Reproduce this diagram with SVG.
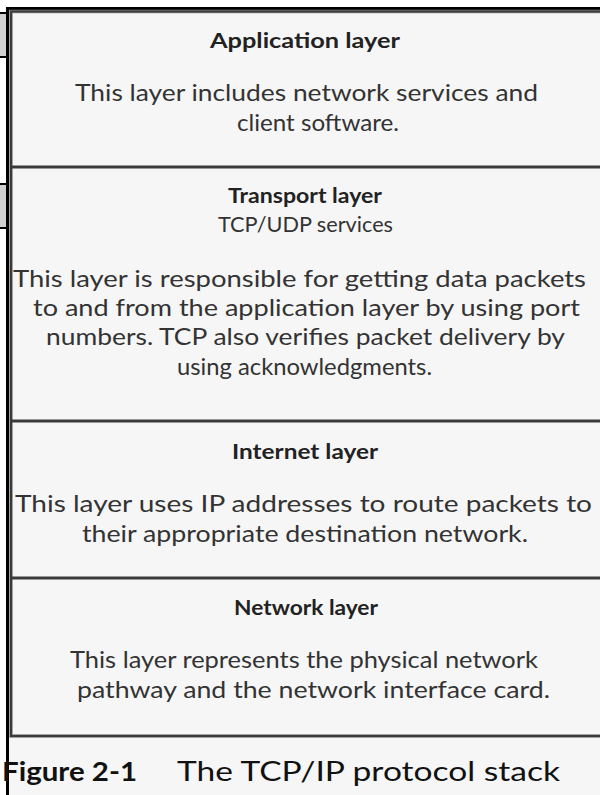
<svg xmlns="http://www.w3.org/2000/svg" width="600" height="795" viewBox="0 0 600 795">
<style>
text{font-family:Lato,"Open Sans","Liberation Sans",sans-serif;fill:#333;text-anchor:middle}
.h{font-weight:bold;font-size:21px;fill:#222}
.b{font-size:24px}
.cap{font-size:27px;fill:#111;text-anchor:start}
.sep{stroke:#3a3a3a;stroke-width:3;fill:none}
.tab{fill:#d0d0d0;stroke:#000;stroke-width:2}
</style>
<rect x="0" y="0" width="600" height="795" fill="#ffffff"/>
<rect x="7" y="8" width="593" height="787" fill="#f6f6f6"/>
<g id="tabs">
<rect class="tab" x="-2" y="13" width="9" height="44"/>
<rect class="tab" x="-2" y="184" width="9" height="44"/>
</g>
<g id="frame">
<line x1="7.5" y1="7" x2="7.5" y2="795" stroke="#000" stroke-width="3"/>
<line x1="6" y1="8.5" x2="600" y2="8.5" stroke="#000" stroke-width="3"/>
<rect x="11" y="11.5" width="600" height="724.5" fill="none" stroke="#888" stroke-width="3.5"/>
<rect x="11" y="11.5" width="600" height="724.5" fill="none" stroke="#3a3a3a" stroke-width="2"/>
</g>
<g id="connectors">
<line class="sep" x1="11" y1="167" x2="600" y2="167"/>
<line class="sep" x1="11" y1="421" x2="600" y2="421"/>
<line class="sep" x1="11" y1="578" x2="600" y2="578"/>
</g>
<g id="application">
<text class="h" x="305" y="48" textLength="190" lengthAdjust="spacingAndGlyphs">Application layer</text>
<text class="b" x="306.5" y="101" textLength="463" lengthAdjust="spacingAndGlyphs">This layer includes network services and</text>
<text class="b" x="318" y="131" textLength="162" lengthAdjust="spacingAndGlyphs">client software.</text>
</g>
<g id="transport">
<text class="h" x="305" y="203" textLength="154" lengthAdjust="spacingAndGlyphs">Transport layer</text>
<text class="b" x="305.5" y="232" style="font-size:21px" textLength="175" lengthAdjust="spacingAndGlyphs">TCP/UDP services</text>
<text class="b" x="299.5" y="287" textLength="573" lengthAdjust="spacingAndGlyphs">This layer is responsible for getting data packets</text>
<text class="b" x="306.5" y="316" textLength="547" lengthAdjust="spacingAndGlyphs">to and from the application layer by using port</text>
<text class="b" x="305.5" y="345" textLength="519" lengthAdjust="spacingAndGlyphs">numbers. TCP also verifies packet delivery by</text>
<text class="b" x="304.5" y="375" textLength="255" lengthAdjust="spacingAndGlyphs">using acknowledgments.</text>
</g>
<g id="internet">
<text class="h" x="305" y="459" textLength="146" lengthAdjust="spacingAndGlyphs">Internet layer</text>
<text class="b" x="303.5" y="512" textLength="577" lengthAdjust="spacingAndGlyphs">This layer uses IP addresses to route packets to</text>
<text class="b" x="305" y="542" textLength="446" lengthAdjust="spacingAndGlyphs">their appropriate destination network.</text>
</g>
<g id="network">
<text class="h" x="306" y="615" textLength="144" lengthAdjust="spacingAndGlyphs">Network layer</text>
<text class="b" x="304" y="668" textLength="468" lengthAdjust="spacingAndGlyphs">This layer represents the physical network</text>
<text class="b" x="313.5" y="698" textLength="473" lengthAdjust="spacingAndGlyphs">pathway and the network interface card.</text>
</g>
<g id="caption">
<text class="cap" x="2" y="781" style="font-weight:bold" textLength="135" lengthAdjust="spacingAndGlyphs">Figure 2-1</text>
<text class="cap" x="177" y="781" textLength="383" lengthAdjust="spacingAndGlyphs">The TCP/IP protocol stack</text>
</g>
</svg>
